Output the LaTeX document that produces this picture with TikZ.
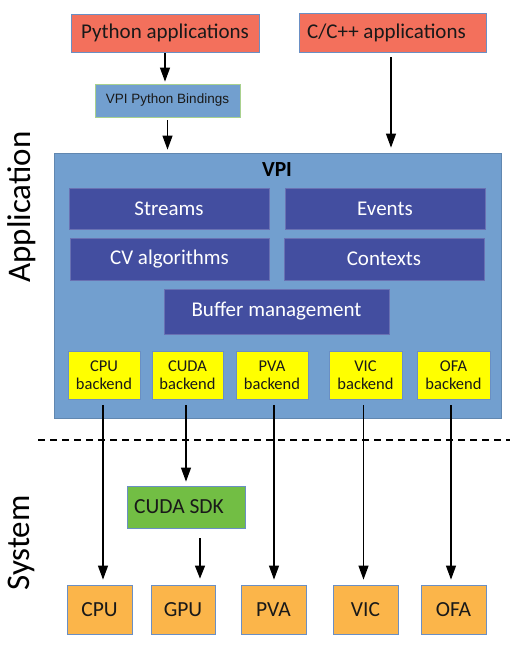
\documentclass[tikz,border=0pt]{standalone}
\usepackage{fontspec}
\setmainfont{Carlito}
\newfontfamily\arialf{Liberation Sans}
\usetikzlibrary{arrows.meta}
\definecolor{salmon}{HTML}{F3705C}
\definecolor{vpiblue}{HTML}{729FCF}
\definecolor{darkblue}{HTML}{434EA0}
\definecolor{ybox}{HTML}{FFFF00}
\definecolor{gbox}{HTML}{72BE44}
\definecolor{obox}{HTML}{FBB54A}
\definecolor{edgeblue}{HTML}{6A8FC4}
\definecolor{edgegreen}{HTML}{A9D18E}
\tikzset{
  box/.style={draw=edgeblue, line width=0.8pt, inner sep=0pt, text=black!90},
  fs/.style={font=\fontsize{#1}{#1}\selectfont},
  redbox/.style={box, fill=salmon, fs=21},
  innerbox/.style={box, fill=darkblue, draw=darkblue!80!white, text=white, fs=21, minimum height=41pt},
  backbox/.style={box, fill=ybox, font=\fontsize{16.5}{18}\selectfont, align=center, minimum height=48pt, minimum width=72pt},
  hwbox/.style={box, fill=obox, fs=21.5, minimum height=49pt, minimum width=65pt},
  arr/.style={line width=1.2pt, -{Triangle[length=14pt,width=10pt]}},
  plain/.style={line width=1.2pt}
}
\begin{document}
\begin{tikzpicture}[x=1pt,y=-1pt]
\path[use as bounding box] (0,0) rectangle (525,656);

% side labels
\node[rotate=90, fs=33] (applab) at (22,207) {Application};
\node[rotate=90, fs=33] (syslab) at (21,543) {System};

% top apps
\node[redbox, minimum width=188pt, minimum height=38pt] (py) at (165,33) {Python applications};
\node[redbox, minimum width=187pt, minimum height=39pt] (cpp) at (392.5,32.5) {C/C++ applications\hspace*{12pt}};
\node[box, fill=vpiblue, draw=edgegreen, minimum width=145pt, minimum height=33pt, font=\arialf\fontsize{13.5}{14}\selectfont] (bind) at (167.5,100.5) {VPI Python Bindings};

% VPI container
\node[box, fill=vpiblue, draw=vpiblue!85!black, minimum width=447pt, minimum height=265pt] (vpi) at (277.5,285.5) {};
\node[font=\bfseries\fontsize{21.5}{21.5}\selectfont] (vpilab) at (277,170) {VPI};

\node[innerbox, minimum width=200pt] (streams) at (169,208.5) {Streams};
\node[innerbox, minimum width=200pt] (events) at (385,208.5) {Events};
\node[innerbox, minimum width=199pt, minimum height=42pt] (cv) at (169.5,259) {CV algorithms};
\node[innerbox, minimum width=200pt, minimum height=42pt] (ctx) at (384,259) {Contexts};
\node[innerbox, minimum width=225pt, minimum height=45pt] (buf) at (276.5,311.5) {Buffer management};

\node[backbox] (cpub) at (104,375) {CPU\\backend};
\node[backbox, minimum width=71pt] (cudab) at (187.5,375) {CUDA\\backend};
\node[backbox] (pvab) at (272,375) {PVA\\backend};
\node[backbox, minimum width=73pt] (vicb) at (365.5,375) {VIC\\backend};
\node[backbox, minimum width=73pt] (ofab) at (453.5,375) {OFA\\backend};

% separator
\coordinate (dl) at (38,440);
\coordinate (dr) at (510,440);
\draw[line width=2.5pt, dash pattern=on 7pt off 5pt] (dl) -- (dr);

% system
\node[box, fill=gbox, minimum width=118pt, minimum height=42pt, fs=21.5] (sdk) at (186,507) {CUDA SDK\hspace*{14pt}};
\node[hwbox] (cpu) at (99.5,609.5) {CPU};
\node[hwbox, minimum width=64pt] (gpu) at (183,609.5) {GPU};
\node[hwbox] (pva) at (273.5,609.5) {PVA};
\node[hwbox] (vic) at (365.5,609.5) {VIC};
\node[hwbox] (ofa) at (453.5,609.5) {OFA};

% connectors
\draw[arr, shorten <=1pt, shorten >=2pt] (py.south) -- (py.south |- bind.north);
\draw[arr, shorten <=3pt, shorten >=3pt] (bind.south) -- (bind.south |- vpi.north);
\draw[arr, shorten <=5pt, shorten >=5pt] ([xshift=-1.5pt]cpp.south) -- ([xshift=-1.5pt]cpp.south |- vpi.north);

\draw[arr, shorten <=6pt, shorten >=5pt] ([xshift=-1pt]cpub.south) -- ([xshift=-1pt]cpub.south |- cpu.north);
\draw[arr, shorten <=6pt, shorten >=4pt] ([xshift=-1.5pt]cudab.south) -- ([xshift=-1.5pt]cudab.south |- sdk.north);
\draw[arr, shorten <=6pt, shorten >=5pt] ([xshift=2pt]pvab.south) -- ([xshift=2pt]pvab.south |- pva.north);
\draw[arr, shorten <=6pt, shorten >=5pt] ([xshift=-2pt]vicb.south) -- ([xshift=-2pt]vicb.south |- vic.north);
\draw[arr, shorten <=6pt, shorten >=5pt] ([xshift=-2.5pt]ofab.south) -- ([xshift=-2.5pt]ofab.south |- ofa.north);
\draw[arr, shorten <=10pt, shorten >=6pt, -{Triangle[length=13pt,width=10pt]}] ([xshift=14pt]sdk.south) -- ([xshift=14pt]sdk.south |- gpu.north);
\end{tikzpicture}
\end{document}
